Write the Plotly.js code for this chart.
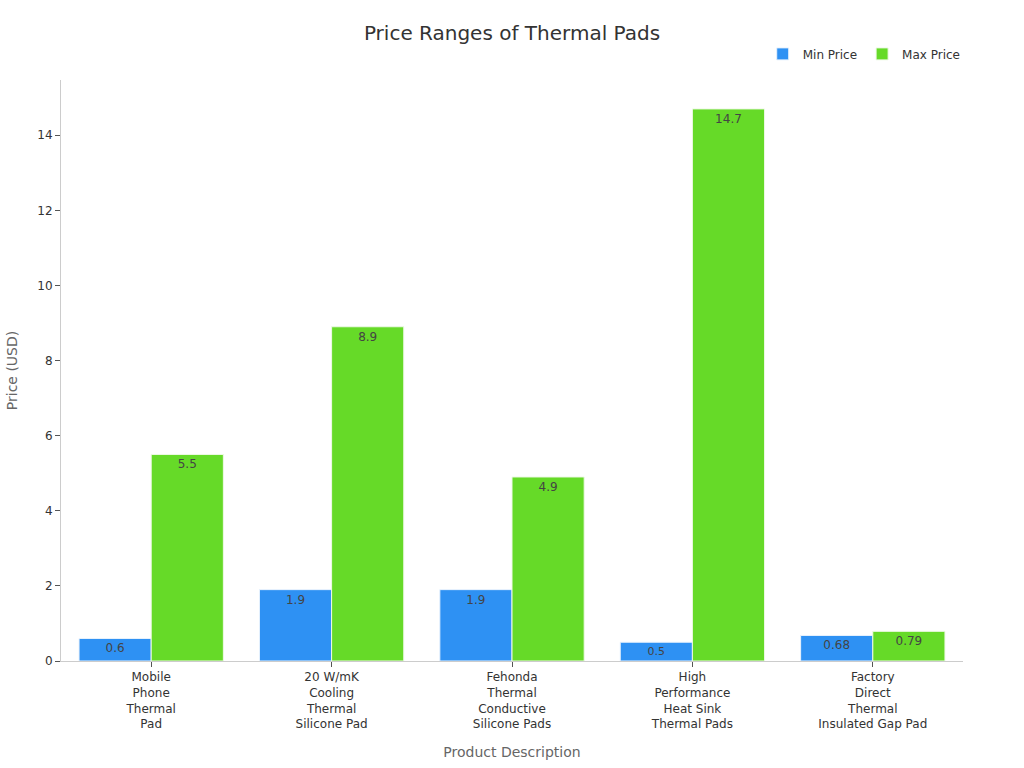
<!DOCTYPE html>
<html>
<head>
<meta charset="utf-8">
<script src="https://cdn.plot.ly/plotly-3.0.1.min.js"></script>
<style>html,body{margin:0;padding:0;background:#fff;}</style>
</head>
<body>
<div id="plot1" style="width:1024px;height:768px;"></div>
<script>
var categories = [
  'Mobile<br>Phone<br>Thermal<br>Pad',
  '20 W/mK<br>Cooling<br>Thermal<br>Silicone Pad',
  'Fehonda<br>Thermal<br>Conductive<br>Silicone Pads',
  'High<br>Performance<br>Heat Sink<br>Thermal Pads',
  'Factory<br>Direct<br>Thermal<br>Insulated Gap Pad'
];
var minPrice = [0.6, 1.9, 1.9, 0.5, 0.68];
var maxPrice = [5.5, 8.9, 4.9, 14.7, 0.79];

var minTrace = {
  x: categories,
  y: minPrice,
  name: 'Min Price',
  type: 'bar',
  text: minPrice.map(String),
  textposition: 'inside',
  insidetextanchor: 'end',
  textfont: {color: '#444', size: 12},
  marker: {color: '#2e91f3', line: {color: '#e8f2fd', width: 1}},
  hoverinfo: 'none'
};

var maxTrace = {
  x: categories,
  y: maxPrice,
  name: 'Max Price',
  type: 'bar',
  text: maxPrice.map(String),
  textposition: 'inside',
  insidetextanchor: 'end',
  textfont: {color: '#444', size: 12},
  marker: {color: '#66da28', line: {color: '#eef9e6', width: 1}},
  hoverinfo: 'none'
};

var layout = {
  width: 1024,
  height: 768,
  font: {family: 'DejaVu Sans', color: '#333', size: 12},
  title: {text: 'Price Ranges of Thermal Pads', x: 0.5, xanchor: 'center', y: 0.957, yanchor: 'middle', font: {size: 20, color: '#333'}},
  barmode: 'group',
  bargap: 0.2,
  bargroupgap: 0,
  margin: {l: 61, r: 61, t: 80, b: 107},
  showlegend: true,
  legend: {orientation: 'h', x: 1.003, xanchor: 'right', y: 1.02, yanchor: 'bottom', font: {size: 12, color: '#333'}},
  xaxis: {
    title: {text: 'Product Description', font: {size: 14, color: '#666'}, standoff: 16},
    showline: true, linecolor: '#ccc', linewidth: 1,
    ticks: 'outside', ticklen: 5, tickcolor: '#555',
    showgrid: false, tickfont: {size: 12, color: '#333'}
  },
  yaxis: {
    title: {text: 'Price (USD)', font: {size: 14, color: '#666'}, standoff: 16},
    range: [0, 15.47],
    dtick: 2,
    showline: true, linecolor: '#ccc', linewidth: 1,
    ticks: 'outside', ticklen: 5, tickcolor: '#555',
    showgrid: false, zeroline: false, tickfont: {size: 12, color: '#333'}
  },
  plot_bgcolor: '#fff',
  paper_bgcolor: '#fff'
};

Plotly.newPlot('plot1', [minTrace, maxTrace], layout, {displayModeBar: false});
</script>
</body>
</html>
